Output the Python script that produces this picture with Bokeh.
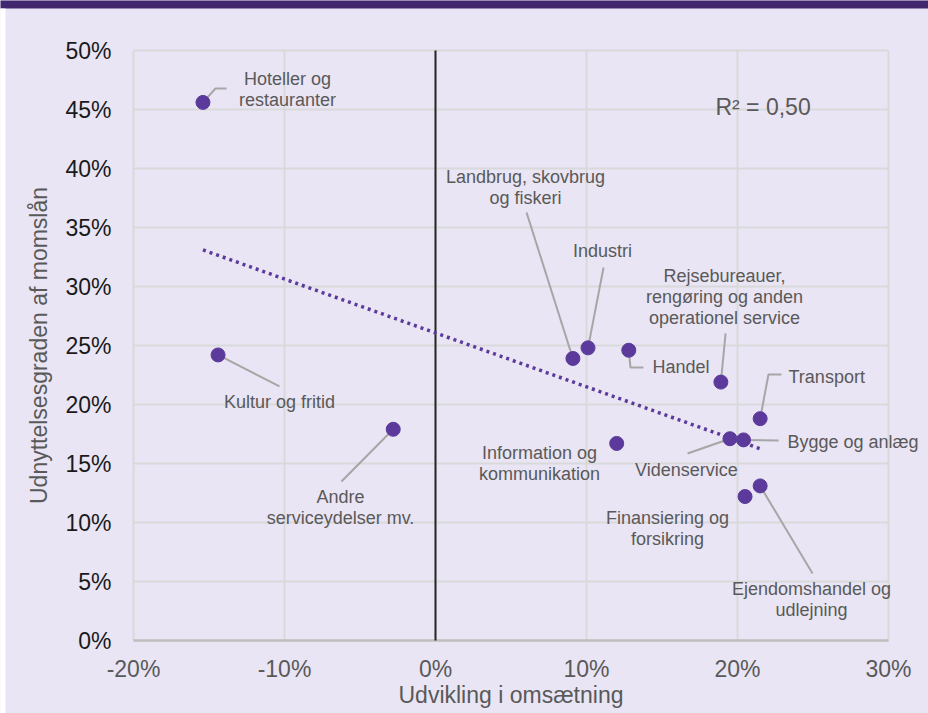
import numpy as np
from bokeh.plotting import figure
from bokeh.models import ColumnDataSource, FixedTicker, PrintfTickFormatter, Range1d
from bokeh.core.properties import value
from bokeh.embed import file_html
from bokeh.resources import INLINE

# ---- data (percent) ----
categories = ["Hoteller og restauranter", "Kultur og fritid", "Andre serviceydelser mv.",
              "Landbrug, skovbrug og fiskeri", "Industri", "Handel",
              "Rejsebureauer, rengøring og anden operationel service", "Transport",
              "Videnservice", "Bygge og anlæg", "Information og kommunikation",
              "Ejendomshandel og udlejning", "Finansiering og forsikring"]
omsaetning = [-15.4, -14.4, -2.8, 9.1, 10.1, 12.8, 18.9, 21.5, 19.5, 20.4, 12.0, 21.5, 20.5]
udnyttelse = [45.6, 24.2, 17.9, 23.9, 24.8, 24.6, 21.9, 18.8, 17.1, 17.0, 16.7, 13.1, 12.2]
x_ticks = [-20, -10, 0, 10, 20, 30]
y_ticks = [0, 5, 10, 15, 20, 25, 30, 35, 40, 45, 50]

# ---- label layout (lines, anchor x, block-centre y, align, leader path excluding the point) ----
label_layout = {
    "Hoteller og restauranter": (["Hoteller og", "restauranter"], -9.8, 46.7, "center", [(-14.57, 46.78), (-13.84, 46.78)]),
    "Kultur og fritid": (["Kultur og fritid"], -10.33, 20.25, "center", [(-10.33, 21.53)]),
    "Andre serviceydelser mv.": (["Andre", "serviceydelser mv."], -6.29, 11.27, "center", [(-6.23, 13.47)]),
    "Landbrug, skovbrug og fiskeri": (["Landbrug, skovbrug", "og fiskeri"], 5.96, 38.39, "center", [(6.03, 36.27)]),
    "Industri": (["Industri"], 11.06, 32.97, "center", [(11.13, 31.61)]),
    "Handel": (["Handel"], 14.37, 23.14, "left", [(12.91, 23.14), (13.77, 23.14)]),
    "Rejsebureauer, rengøring og anden operationel service": (
        ["Rejsebureauer,", "rengøring og anden", "operationel service"], 19.14, 29.15, "center", [(19.21, 26.02)]),
    "Transport": (["Transport"], 23.38, 22.37, "left", [(22.05, 22.54), (22.91, 22.54)]),
    "Videnservice": (["Videnservice"], 16.62, 14.49, "center", [(16.69, 15.85)]),
    "Bygge og anlæg": (["Bygge og anlæg"], 23.31, 16.78, "left", [(22.72, 16.95)]),
    "Information og kommunikation": (["Information og", "kommunikation"], 6.89, 15.0, "center", []),
    "Ejendomshandel og udlejning": (["Ejendomshandel og", "udlejning"], 24.90, 3.47, "center", [(24.97, 5.68)]),
    "Finansiering og forsikring": (["Finansiering og", "forsikring"], 15.36, 9.49, "center", []),
}
LINE_STEP = 1.78  # vertical distance between label lines, in y units

FONT = "Liberation Sans"
BG = "#E9E5F4"
PURPLE = "#5B3A9B"
GRID = "#D9D9D9"
TXT = "#595959"

X_MIN, X_MAX = -20, 30
Y_MIN, Y_MAX = 0, 50
PX_X = 15.1   # pixels per x unit
PX_Y = 11.8   # pixels per y unit
# the plot area covers the whole canvas; axes are pinned inside it
p = figure(width=928, height=713, output_backend="svg", toolbar_location=None,
           x_range=Range1d(X_MIN - 133 / PX_X, X_MAX + 40 / PX_X),
           y_range=Range1d(Y_MIN - 73 / PX_Y, Y_MAX + 50 / PX_Y),
           min_border_left=0, min_border_right=0, min_border_top=0, min_border_bottom=0)
p.background_fill_color = BG
p.border_fill_color = BG
p.outline_line_color = None
p.xgrid.visible = False
p.ygrid.visible = False

for ax in (p.xaxis[0], p.yaxis[0]):
    ax.major_tick_line_color = None
    ax.minor_tick_line_color = None
    ax.major_tick_out = 0
    ax.major_tick_in = 0
    ax.axis_line_color = None
    ax.major_label_text_font = FONT
    ax.major_label_text_font_size = "23px"
    ax.axis_label_text_font = FONT
    ax.axis_label_text_font_size = "23px"
    ax.axis_label_text_font_style = "normal"
    ax.axis_label_text_color = TXT
    ax.formatter = PrintfTickFormatter(format="%d%%")

p.xaxis.fixed_location = Y_MIN
p.yaxis.fixed_location = X_MIN
p.xaxis.bounds = (X_MIN, X_MAX)
p.yaxis.bounds = (Y_MIN, Y_MAX)
p.xaxis.ticker = FixedTicker(ticks=x_ticks)
p.yaxis.ticker = FixedTicker(ticks=y_ticks)
p.xaxis.major_label_text_color = TXT
p.yaxis.major_label_text_color = "#1A1A1A"
p.xaxis.major_label_standoff = 15
p.yaxis.major_label_standoff = 22
p.xaxis.axis_label = "Udvikling i omsætning"
p.yaxis.axis_label = "Udnyttelsesgraden af momslån"
p.xaxis.axis_label_standoff = -3
p.yaxis.axis_label_standoff = 10

# page frame: top band and thin white strip at the left edge
p.quad(left=[X_MIN - 20], right=[X_MAX + 20], bottom=[Y_MAX + 42 / PX_Y], top=[Y_MAX + 60 / PX_Y],
       fill_color="#41286E", line_color=None)
p.quad(left=[X_MIN - 140 / PX_X], right=[X_MIN - 128 / PX_X], bottom=[Y_MIN - 80 / PX_Y],
       top=[Y_MAX + 42 / PX_Y], fill_color="#FFFFFF", line_color=None)

# grid lines (bounded to the data area)
p.segment(x0=x_ticks, x1=x_ticks, y0=[Y_MIN] * len(x_ticks), y1=[Y_MAX] * len(x_ticks),
          line_color=GRID, line_width=2)
p.segment(x0=[X_MIN] * len(y_ticks), x1=[X_MAX] * len(y_ticks), y0=y_ticks, y1=y_ticks,
          line_color=GRID, line_width=2)
# x axis line and zero line
p.segment(x0=[X_MIN], x1=[X_MAX], y0=[Y_MIN], y1=[Y_MIN], line_color="#BFBFBF", line_width=2.5)
p.segment(x0=[0], x1=[0], y0=[Y_MIN], y1=[Y_MAX], line_color="#262626", line_width=2)

# trend line (least squares)
xa = np.array(omsaetning)
ya = np.array(udnyttelse)
slope, intercept = np.polyfit(xa, ya, 1)
r2 = np.corrcoef(xa, ya)[0, 1] ** 2
tx = np.array([xa.min(), xa.max()])
p.line(tx, slope * tx + intercept, line_color=PURPLE, line_width=3.5, line_dash="3 4")

# leader lines
lx, ly = [], []
for c, xv, yv in zip(categories, omsaetning, udnyttelse):
    path = label_layout[c][4]
    if path:
        lx.append([xv] + [pt[0] for pt in path])
        ly.append([yv] + [pt[1] for pt in path])
p.multi_line(lx, ly, line_color="#A6A6A6", line_width=2)

# points
p.scatter(omsaetning, udnyttelse, size=14, fill_color=PURPLE, line_color=PURPLE)

# labels (one row per text line)
for align in ("center", "left"):
    xs, ys, ts = [], [], []
    for c in categories:
        lines, ax_, ay_, al, _ = label_layout[c]
        if al != align:
            continue
        n = len(lines)
        for i, t in enumerate(lines):
            xs.append(ax_)
            ys.append(ay_ + ((n - 1) / 2 - i) * LINE_STEP)
            ts.append(t)
    src = ColumnDataSource(dict(x=xs, y=ys, t=ts))
    p.text(x="x", y="y", text="t", source=src, text_align=align, text_baseline="middle",
           text_font=value(FONT), text_font_size="18px", text_color=TXT)

p.text(x=[18.54], y=[45.25], text=["R² = %s" % ("%.2f" % r2).replace(".", ",")],
       text_align="left", text_baseline="middle", text_font=value(FONT),
       text_font_size="23px", text_color=TXT)

open("out.html", "w").write(file_html(p, INLINE))
